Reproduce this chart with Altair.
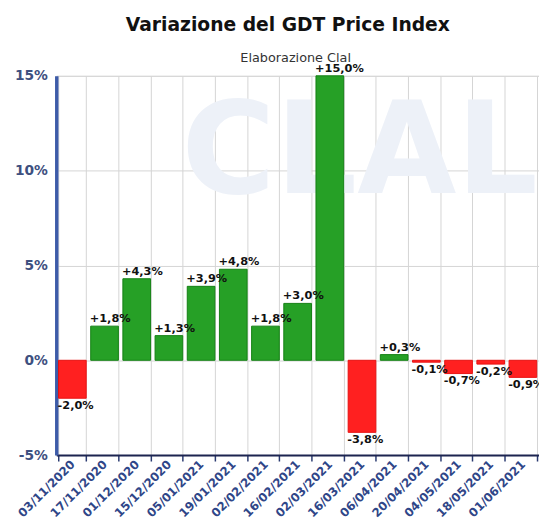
import altair as alt
import pandas as pd

dates = ["03/11/2020", "17/11/2020", "01/12/2020", "15/12/2020", "05/01/2021",
         "19/01/2021", "02/02/2021", "16/02/2021", "02/03/2021", "16/03/2021",
         "06/04/2021", "20/04/2021", "04/05/2021", "18/05/2021", "01/06/2021"]
values = [-2.0, 1.8, 4.3, 1.3, 3.9, 4.8, 1.8, 3.0, 15.0, -3.8, 0.3, -0.1, -0.7, -0.2, -0.9]

df = pd.DataFrame({"date": dates, "value": values})
df["label"] = [f"{v:+.1f}%".replace(".", ",") for v in values]
df["sign"] = ["pos" if v >= 0 else "neg" for v in values]

xenc = alt.X("date:N", sort=dates, title=None,
             scale=alt.Scale(paddingInner=0.14, paddingOuter=0.07),
             axis=alt.Axis(labelAngle=-45, labelAlign="right", labelBaseline="middle",
                           labelFont="DejaVu Sans", labelFontSize=12, labelFontWeight="bold",
                           labelColor="#2f4688", tickBand="extent", grid=True,
                           gridColor="#d4d4d4", gridWidth=1, tickColor="#2a3a70",
                           tickSize=6, tickWidth=1.5, domainColor="#1c2450",
                           domainWidth=2, labelPadding=1))
yscale = alt.Scale(domain=[-5, 15], nice=False, zero=False)
yenc = alt.Y("value:Q", title=None, scale=yscale,
             axis=alt.Axis(values=[-5, 0, 5, 10, 15], labelExpr="datum.value + '%'",
                           labelFont="DejaVu Sans", labelFontSize=14, labelFontWeight="bold",
                           labelColor="#3e5080", ticks=False, labelPadding=9,
                           domainColor="#3d5ba8", domainWidth=3.5, gridColor="#d4d4d4"))

watermark = alt.Chart(pd.DataFrame({"t": ["CLAL"]})).mark_text(
    fontSize=130, fontWeight="bold", font="DejaVu Sans", color="#edf1f8",
    align="center", baseline="middle").encode(
    text="t:N", x=alt.value(308), y=alt.value(80))

title = alt.Chart(pd.DataFrame({"t": ["Variazione del GDT Price Index"]})).mark_text(
    fontSize=19, fontWeight="bold", font="DejaVu Sans", color="#111111",
    align="center", baseline="middle").encode(
    text="t:N", x=alt.value(235), y=alt.value(-51))

subtitle = alt.Chart(pd.DataFrame({"t": ["Elaborazione Clal"]})).mark_text(
    fontSize=13, font="DejaVu Sans", color="#333333",
    align="center", baseline="middle").encode(
    text="t:N", x=alt.value(243), y=alt.value(-18))

bars = alt.Chart(df).mark_bar(strokeWidth=1).encode(
    x=xenc, y=yenc, y2=alt.datum(0),
    color=alt.Color("sign:N", scale=alt.Scale(domain=["pos", "neg"], range=["#26a026", "#ff2020"]), legend=None),
    stroke=alt.Color("sign:N", scale=alt.Scale(domain=["pos", "neg"], range=["#138013", "#e81010"]), legend=None),
)

pos_text = alt.Chart(df).transform_filter("datum.value >= 0").mark_text(
    baseline="bottom", align="left", dy=-2, dx=-15, fontSize=11.5, fontWeight="bold",
    font="DejaVu Sans", color="#111111"
).encode(x=alt.X("date:N", sort=dates), y=alt.Y("value:Q", scale=yscale), text="label:N")

neg_text = alt.Chart(df).transform_filter("datum.value < 0").mark_text(
    baseline="top", align="left", dy=2, dx=-15, fontSize=11.5, fontWeight="bold",
    font="DejaVu Sans", color="#111111"
).encode(x=alt.X("date:N", sort=dates), y=alt.Y("value:Q", scale=yscale), text="label:N")

chart = alt.layer(watermark, title, subtitle, bars, pos_text, neg_text).properties(
    width=490, height=385,
    autosize=alt.AutoSizeParams(type="none"),
    padding={"left": 49, "top": 65, "right": 0, "bottom": 61},
).configure_view(stroke="#111111", strokeWidth=2).configure(background="white")

chart.save("out.html", embed_options={"renderer": "svg", "actions": False})
